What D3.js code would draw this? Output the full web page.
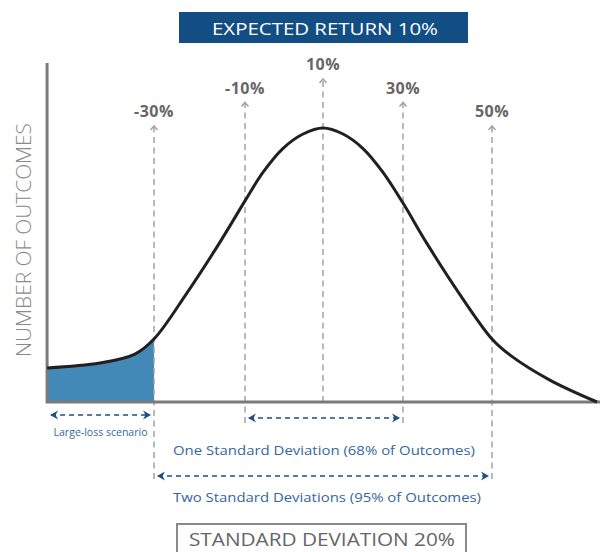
<!DOCTYPE html>
<html>
<head>
<meta charset="utf-8">
<script src="https://cdn.jsdelivr.net/npm/d3@7"></script>
<style>
  body { margin: 0; background: #fff; }
  svg { display: block; font-family: "Open Sans", sans-serif; }
</style>
</head>
<body>
<div id="chart"></div>
<script>
// returns (%) marked on the chart
const returnTicks = [-30, -10, 10, 30, 50];
const tickLabels = ["-30%", "-10%", "10%", "30%", "50%"];
const meanReturn = 10;
const stdDev = 20;

// distribution curve (return %, relative count)
const curveReturns = [-53.5, -41.9, -34.2, -30, -23, -15.7, -10, -5.4, -0.3, 4.9, 10, 15, 20, 25, 30, 35.4, 42.8, 50, 54, 63, 73.6];
const curveCounts  = [12.4, 14.2, 17.5, 23, 39.2, 57.8, 73.4, 83.8, 92.5, 97.8, 100, 97.8, 92.5, 83.8, 72.6, 57.8, 39.2, 23, 17.2, 8, 0];

// spans shown as double arrows below the axis
const spanNames = ["Large-loss scenario", "One Standard Deviation (68% of Outcomes)", "Two Standard Deviations (95% of Outcomes)"];
const spanFrom = [-53.5, -10, -30];
const spanTo = [-30, 30, 50];

const titleText = "EXPECTED RETURN 10%";
const footText = "STANDARD DEVIATION 20%";
const yLabel = "NUMBER OF OUTCOMES";

const W = 600, H = 552;

const x = d3.scaleLinear()
  .domain(returnTicks)
  .range([154, 245, 323, 403, 492]);
const y = d3.scaleLinear()
  .domain([0, 100])
  .range([402, 128]);

const svg = d3.select("#chart").append("svg")
  .attr("width", W)
  .attr("height", H);

const defs = svg.append("defs");

// small gray arrow on top of the dashed lines
defs.append("marker")
  .attr("id", "upArrow")
  .attr("viewBox", "-5 -5 10 10")
  .attr("markerWidth", 10).attr("markerHeight", 10)
  .attr("markerUnits", "userSpaceOnUse")
  .attr("orient", "auto-start-reverse")
  .append("path")
  .attr("d", "M-4,-3.5 L0,0 L-4,3.5")
  .attr("fill", "none")
  .attr("stroke", "#a3a3a3")
  .attr("stroke-width", 1.5);

// blue arrow heads for the spans
defs.append("marker")
  .attr("id", "blueArrow")
  .attr("viewBox", "-8 -5 10 10")
  .attr("markerWidth", 10).attr("markerHeight", 10)
  .attr("markerUnits", "userSpaceOnUse")
  .attr("orient", "auto-start-reverse")
  .append("path")
  .attr("d", "M-7,-4.5 L1,0 L-7,4.5 L-4.5,0 Z")
  .attr("fill", "#1d4f82");

defs.append("clipPath")
  .attr("id", "lossClip")
  .append("rect")
  .attr("x", 0).attr("y", 0)
  .attr("width", x(-30))
  .attr("height", y(0));

const pts = curveReturns.map((r, i) => [r, curveCounts[i]]);
const xLeft = x(curveReturns[0]);
const smooth = d3.curveCatmullRom.alpha(0.5);

// large-loss shading
const area = d3.area()
  .x(d => x(d[0]))
  .y0(y(0))
  .y1(d => y(d[1]))
  .curve(smooth);

svg.append("path")
  .datum(pts)
  .attr("clip-path", "url(#lossClip)")
  .attr("fill", "#4389b8")
  .attr("d", area);

// dashed guide lines with their labels
const tier = r => Math.abs(r - meanReturn) / stdDev;
const tipY = r => 79 + 23.5 * tier(r);
const lineBottom = r => tier(r) === 0 ? y(0) : (tier(r) === 1 ? 423 : 479);

const guides = svg.append("g").attr("class", "guides");
guides.selectAll("line")
  .data(returnTicks)
  .join("line")
  .attr("x1", d => x(d)).attr("x2", d => x(d))
  .attr("y1", d => lineBottom(d))
  .attr("y2", d => tipY(d))
  .attr("stroke", "#a3a3a3")
  .attr("stroke-width", 1.5)
  .attr("stroke-dasharray", "6,4.5")
  .attr("marker-end", "url(#upArrow)");

guides.selectAll("text")
  .data(returnTicks)
  .join("text")
  .attr("x", d => x(d))
  .attr("y", d => tipY(d) - 9)
  .attr("text-anchor", "middle")
  .attr("fill", "#666")
  .attr("font-weight", 700)
  .attr("font-size", 16)
  .attr("letter-spacing", 0.5)
  .text((d, i) => tickLabels[i]);

// axes
svg.append("path")
  .attr("d", `M${xLeft},63 V${y(0)} H${W}`)
  .attr("fill", "none")
  .attr("stroke", "#7a7a7a")
  .attr("stroke-width", 3);

// distribution curve
const line = d3.line()
  .x(d => x(d[0]))
  .y(d => y(d[1]))
  .curve(smooth);

svg.append("path")
  .datum(pts)
  .attr("fill", "none")
  .attr("stroke", "#231f20")
  .attr("stroke-width", 3)
  .attr("d", line);

// spans
const spanY = [415, 418, 476];
const spanTextY = [436, 455, 502];
const spanFont = [10, 13, 13];
const spanW = [94, 302, 308];
const spans = svg.append("g").attr("class", "spans");
spanNames.forEach((name, i) => {
  const a = x(spanFrom[i]) + 4, b = x(spanTo[i]) - 4;
  spans.append("line")
    .attr("x1", a).attr("x2", b)
    .attr("y1", spanY[i]).attr("y2", spanY[i])
    .attr("stroke", "#1d4f82")
    .attr("stroke-width", 1.5)
    .attr("stroke-dasharray", "5,4")
    .attr("marker-start", "url(#blueArrow)")
    .attr("marker-end", "url(#blueArrow)");
  spans.append("text")
    .attr("x", i === 0 ? (a + b) / 2 : x(-30) + 19)
    .attr("y", spanTextY[i])
    .attr("text-anchor", i === 0 ? "middle" : "start")
    .attr("fill", "#3467a0")
    .attr("font-size", spanFont[i])
    .attr("textLength", spanW[i])
    .attr("lengthAdjust", "spacingAndGlyphs")
    .text(name);
});

// y axis label
svg.append("text")
  .attr("transform", "translate(31,240) rotate(-90)")
  .attr("text-anchor", "middle")
  .attr("fill", "#8a8a8a")
  .attr("font-weight", 300)
  .attr("font-size", 20)
  .attr("textLength", 234)
  .attr("lengthAdjust", "spacingAndGlyphs")
  .text(yLabel);

// title box
svg.append("rect")
  .attr("x", 179).attr("y", 12)
  .attr("width", 289).attr("height", 31)
  .attr("fill", "#124d84");
svg.append("text")
  .attr("x", 325).attr("y", 35)
  .attr("text-anchor", "middle")
  .attr("fill", "#fff")
  .attr("font-size", 17)
  .attr("textLength", 226)
  .attr("lengthAdjust", "spacingAndGlyphs")
  .text(titleText);

// footer box
svg.append("rect")
  .attr("x", 177).attr("y", 524)
  .attr("width", 289).attr("height", 40)
  .attr("fill", "none")
  .attr("stroke", "#8a8a8a")
  .attr("stroke-width", 2);
svg.append("text")
  .attr("x", 322).attr("y", 546)
  .attr("text-anchor", "middle")
  .attr("fill", "#666")
  .attr("font-size", 18)
  .attr("textLength", 266)
  .attr("lengthAdjust", "spacingAndGlyphs")
  .text(footText);
</script>
</body>
</html>
